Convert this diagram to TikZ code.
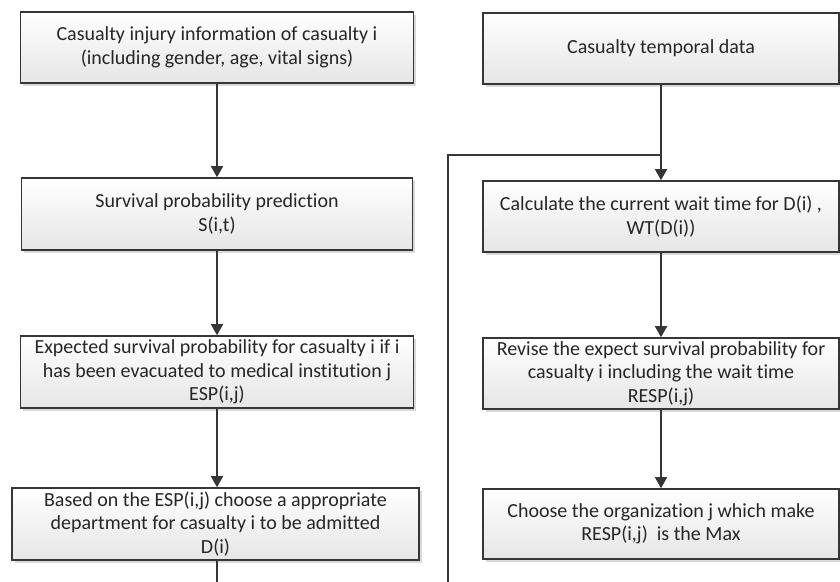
\documentclass[tikz,border=0pt]{standalone}
\usepackage{fontspec}
\setmainfont{Carlito}[Ligatures={NoCommon}]
\usetikzlibrary{arrows.meta,shadows}
\definecolor{linec}{HTML}{363636}
\definecolor{txtc}{HTML}{262626}
\tikzset{
  box/.style={draw=linec, line width=1.6pt, top color=white, bottom color=black!10,
    inner sep=0pt, align=center, text=txtc,
    font=\fontsize{20}{23.5}\selectfont,
    drop shadow={shadow xshift=2.5pt, shadow yshift=-2.5pt, fill=black!25, opacity=0.6}},
  conn/.style={draw=linec, line width=1.7pt},
  arr/.style={conn, -{Triangle[length=11pt,width=12pt]}}
}
\begin{document}
\begin{tikzpicture}[x=1pt,y=1pt]
\useasboundingbox (0,0) rectangle (840,-581);
\node[box, minimum width=393pt, minimum height=71pt] (b1) at (217,-47.5)
  {Casualty injury information of casualty i\\(including gender, age, vital signs)};
\node[box, minimum width=391pt, minimum height=72pt] (b2) at (217,-214)
  {Survival probability prediction\\S(i,t)};
\node[box, minimum width=393pt, minimum height=72pt] (b3) at (217,-372)
  {Expected survival probability for casualty i if i\\has been evacuated to medical institution j\\ESP(i,j)};
\node[box, minimum width=407pt, minimum height=72pt] (b4) at (215.5,-524)
  {Based on the ESP(i,j) choose a appropriate\\department for casualty i to be admitted\\D(i)};
\node[box, minimum width=356pt, minimum height=71pt] (b5) at (661,-48.5)
  {Casualty temporal data};
\node[box, minimum width=356pt, minimum height=71pt] (b6) at (661,-216.5)
  {Calculate the current wait time for D(i) ,\\WT(D(i))};
\node[box, minimum width=356pt, minimum height=71pt] (b7) at (661,-373.5)
  {Revise the expect survival probability for\\casualty i including the wait time\\RESP(i,j)};
\node[box, minimum width=356pt, minimum height=70pt] (b8) at (661,-524)
  {Choose the organization j which make\\RESP(i,j)\ \ is the Max};
\coordinate (lbot) at (217,-582);
\coordinate (fb) at (448,-582);
\coordinate (jn) at (661,-155);
\draw[arr] (b1) -- (b2);
\draw[arr] (b2) -- (b3);
\draw[arr] (b3) -- (b4.north -| b3.south);
\draw[conn] (b4.south -| b3.south) -- (lbot);
\draw[arr] (b5) -- (b6);
\draw[arr] (b6) -- (b7);
\draw[arr] (b7) -- (b8);
\draw[conn] (fb) |- (jn);
\end{tikzpicture}
\end{document}
